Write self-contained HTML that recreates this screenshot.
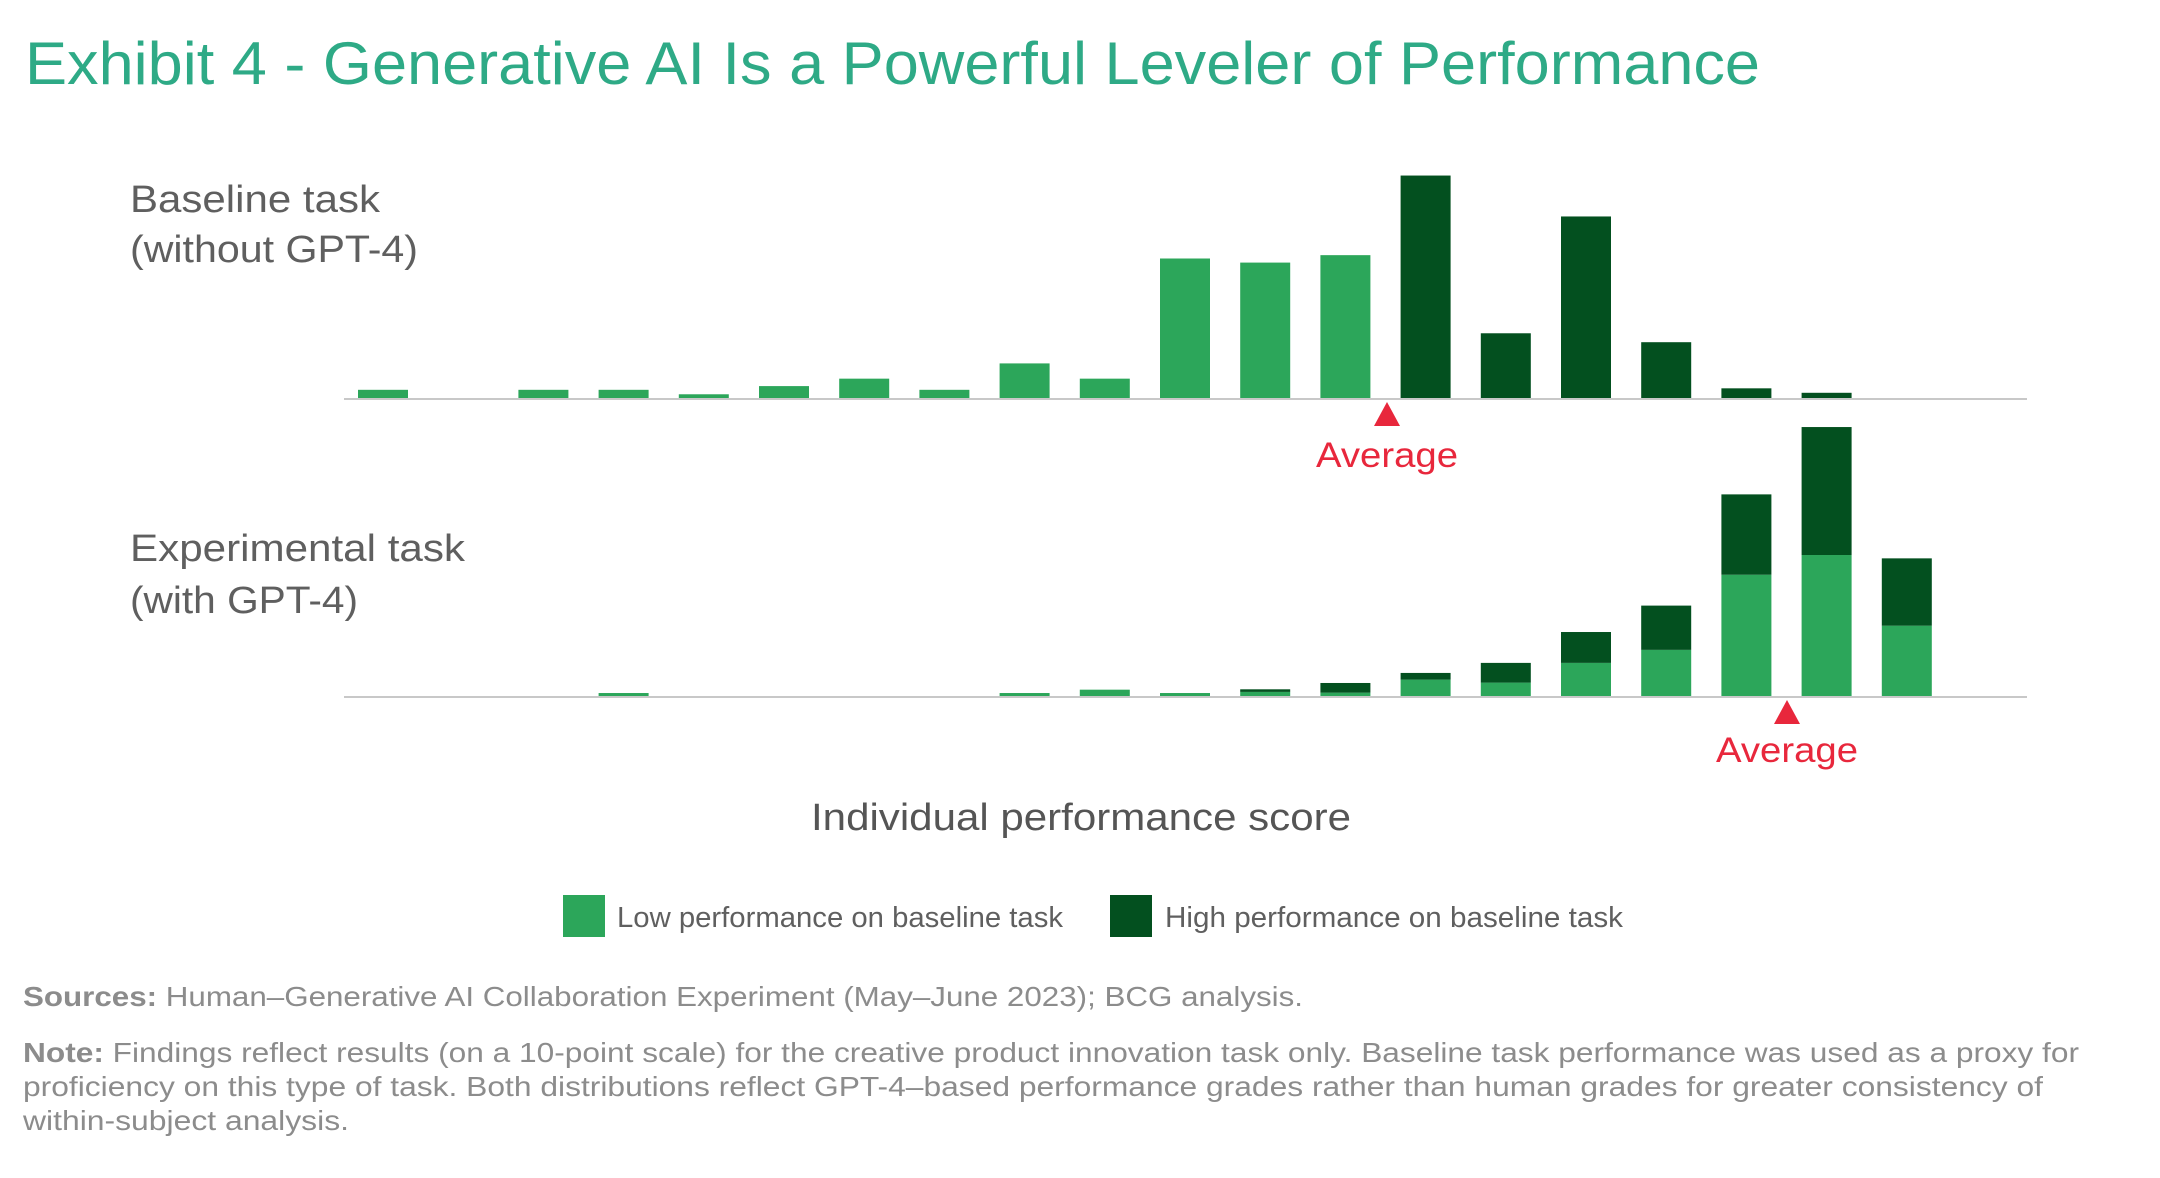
<!DOCTYPE html>
<html><head><meta charset="utf-8"><style>
html,body{margin:0;padding:0;background:#fff;}
svg{display:block;font-family:"Liberation Sans",sans-serif;}
</style></head><body>
<svg id="chart" width="2160" height="1178" viewBox="0 0 2160 1178">
<text x="25" y="84" font-size="60" fill="#2eaa86" textLength="1735" lengthAdjust="spacingAndGlyphs">Exhibit 4 - Generative AI Is a Powerful Leveler of Performance</text>
<g fill="#5f5f5f" font-size="38">
<text x="130" y="212" textLength="250" lengthAdjust="spacingAndGlyphs">Baseline task</text>
<text x="130" y="262" textLength="288" lengthAdjust="spacingAndGlyphs">(without GPT-4)</text>
</g>
<g fill="#5f5f5f" font-size="38">
<text x="130" y="561" textLength="335" lengthAdjust="spacingAndGlyphs">Experimental task</text>
<text x="130" y="613" textLength="228" lengthAdjust="spacingAndGlyphs">(with GPT-4)</text>
</g>
<line x1="344" y1="399" x2="2027" y2="399" stroke="#c8c8c8" stroke-width="2"/>
<line x1="344" y1="697" x2="2027" y2="697" stroke="#c8c8c8" stroke-width="2"/>
<g id="bars"></g>
<polygon points="1387,402 1374,426 1400,426" fill="#e8273c"/>
<text x="1387" y="467" font-size="35" fill="#e8273c" text-anchor="middle" textLength="142" lengthAdjust="spacingAndGlyphs">Average</text>
<polygon points="1787,700 1774,724 1800,724" fill="#e8273c"/>
<text x="1787" y="762" font-size="35" fill="#e8273c" text-anchor="middle" textLength="142" lengthAdjust="spacingAndGlyphs">Average</text>
<text x="1081" y="830" font-size="38" fill="#555" text-anchor="middle" textLength="540" lengthAdjust="spacingAndGlyphs">Individual performance score</text>
<rect x="563" y="895" width="42" height="42" fill="#2ca65a"/>
<text x="617" y="927" font-size="29" fill="#5f5f5f" textLength="446" lengthAdjust="spacingAndGlyphs">Low performance on baseline task</text>
<rect x="1110" y="895" width="42" height="42" fill="#03501f"/>
<text x="1165" y="927" font-size="29" fill="#5f5f5f" textLength="458" lengthAdjust="spacingAndGlyphs">High performance on baseline task</text>
<g fill="#8c8c8c" font-size="28">
<text x="23" y="1006" textLength="1280" lengthAdjust="spacingAndGlyphs"><tspan font-weight="bold">Sources:</tspan> Human–Generative AI Collaboration Experiment (May–June 2023); BCG analysis.</text>
<text x="23" y="1062" textLength="2056" lengthAdjust="spacingAndGlyphs"><tspan font-weight="bold">Note:</tspan> Findings reflect results (on a 10-point scale) for the creative product innovation task only. Baseline task performance was used as a proxy for</text>
<text x="23" y="1096" textLength="2020" lengthAdjust="spacingAndGlyphs">proficiency on this type of task. Both distributions reflect GPT-4–based performance grades rather than human grades for greater consistency of</text>
<text x="23" y="1130" textLength="326" lengthAdjust="spacingAndGlyphs">within-subject analysis.</text>
</g>
</svg>
<script>
const slots = [0,1,2,3,4,5,6,7,8,9,10,11,12,13,14,15,16,17,18,19];
const baselineLow  = [22,0,22,22,10,32,52,22,93,52,375,364,384,0,0,0,0,0,0,0];
const baselineHigh = [0,0,0,0,0,0,0,0,0,0,0,0,0,598,174,488,150,26,14,0];
const expLow  = [0,0,0,8,0,0,0,0,8,17,8,11,9,44,36,89,124,326,379,189];
const expHigh = [0,0,0,0,0,0,0,0,0,0,0,7,26,18,53,83,119,216,344,181];
const LIGHT = "#2ca65a", DARK = "#03501f";
const x0 = 383, step = 80.2, bw = 50, k = 0.372;
function xScale(i){ return x0 + i*step - bw/2; }
function hScale(v){ return v*k; }
const g = document.getElementById('bars');
const NS = "http://www.w3.org/2000/svg";
function bar(i, base, v, off, color, name){
  if(v<=0) return;
  const r = document.createElementNS(NS,'rect');
  r.setAttribute('x', xScale(i));
  r.setAttribute('y', base - hScale(off) - hScale(v));
  r.setAttribute('width', bw);
  r.setAttribute('height', hScale(v));
  r.setAttribute('fill', color);
  
  
  g.appendChild(r);
}
slots.forEach(i=>{
  bar(i, 398, baselineLow[i], 0, LIGHT, 'baseline-bar-low-' + i);
  bar(i, 398, baselineHigh[i], 0, DARK, 'baseline-bar-high-' + i);
  bar(i, 696, expLow[i], 0, LIGHT, 'experimental-bar-low-' + i);
  bar(i, 696, expHigh[i], expLow[i], DARK, 'experimental-bar-high-' + i);
});
</script>
</body></html>
